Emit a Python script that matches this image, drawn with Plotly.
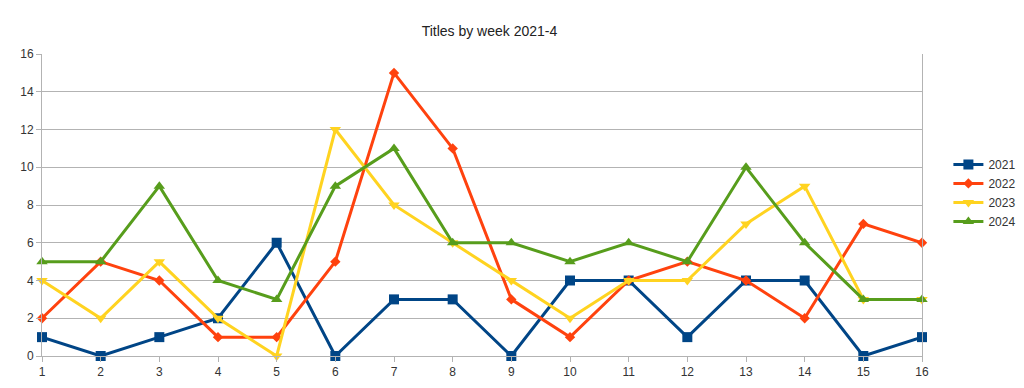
import plotly.graph_objects as go

weeks = list(range(1, 17))
s2021 = [1, 0, 1, 2, 6, 0, 3, 3, 0, 4, 4, 1, 4, 4, 0, 1]
s2022 = [2, 5, 4, 1, 1, 5, 15, 11, 3, 1, 4, 5, 4, 2, 7, 6]
s2023 = [4, 2, 5, 2, 0, 12, 8, 6, 4, 2, 4, 4, 7, 9, 3, 3]
s2024 = [5, 5, 9, 4, 3, 9, 11, 6, 6, 5, 6, 5, 10, 6, 3, 3]
names = ["2021", "2022", "2023", "2024"]
colors = ["#004586", "#ff420e", "#ffd320", "#579d1c"]
symbols = ["square", "diamond", "triangle-down", "triangle-up"]
sizes = [10, 8, 10, 10]

fig = go.Figure()
for name, ys, c, sym, sz in zip(names, [s2021, s2022, s2023, s2024], colors, symbols, sizes):
    fig.add_trace(go.Scatter(x=weeks, y=ys, name=name, mode="lines+markers",
                             line=dict(color=c, width=3),
                             marker=dict(symbol=sym, size=sz, color=c),
                             cliponaxis=False))

fig.update_layout(
    width=1024, height=388,
    margin=dict(l=42, r=102, t=54, b=32, autoexpand=False),
    paper_bgcolor="white", plot_bgcolor="white",
    font=dict(family="Liberation Sans, Arial, sans-serif", size=12, color="#333333"),
    title=dict(text="Titles by week 2021-4", x=0.478, xanchor="center", y=0.92, yanchor="middle",
               font=dict(size=14, color="#222222")),
    legend=dict(x=1.03, xanchor="left", y=0.54, yanchor="middle",
                font=dict(size=12, color="#333333"), tracegroupgap=0, itemwidth=30),
    showlegend=True,
)
fig.update_xaxes(range=[1, 16], tickmode="array", tickvals=weeks, ticktext=[str(w) for w in weeks],
                 showgrid=False, showline=True, linecolor="#b3b3b3", linewidth=1,
                 ticks="outside", ticklen=5, tickcolor="#b3b3b3", zeroline=False, automargin=False)
fig.update_yaxes(range=[0, 16], dtick=2, showgrid=True, gridcolor="#b3b3b3", gridwidth=1,
                 showline=True, linecolor="#b3b3b3", linewidth=1, mirror=True,
                 ticks="outside", ticklen=5, tickcolor="#b3b3b3", zeroline=False, automargin=False)

fig.write_html("out.html", config={"displayModeBar": False},
               post_script="document.body.style.margin='0';document.body.style.overflow='hidden';")
